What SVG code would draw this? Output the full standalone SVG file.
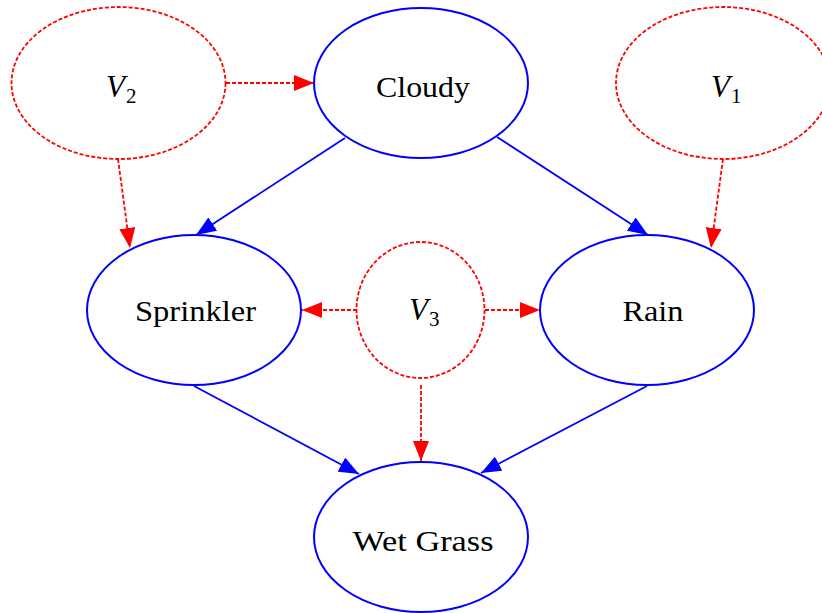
<svg xmlns="http://www.w3.org/2000/svg" width="822" height="613" viewBox="0 0 822 613">
<style>
.obs{fill:none;stroke:#0000ff;stroke-width:2}
.lat{fill:none;stroke:#ff0000;stroke-width:1.8;stroke-dasharray:4 2}
.eb{stroke:#0000ff;stroke-width:1.8;fill:none}
.er{stroke:#ff0000;stroke-width:1.8;stroke-dasharray:4 2;fill:none}
text{font-family:'Liberation Serif','Times New Roman',serif;fill:#000}
.lbl{font-size:30px}
.v{font-size:31px;font-style:italic}
.sub{font-size:21px;font-style:normal}
</style>
<defs>
<marker id="ab" markerUnits="userSpaceOnUse" markerWidth="20" markerHeight="16" refX="20" refY="8" orient="auto"><path d="M0,0 L20,8 L0,16 Z" fill="#0000ff"/></marker>
<marker id="ar" markerUnits="userSpaceOnUse" markerWidth="20" markerHeight="16" refX="20" refY="8" orient="auto"><path d="M0,0 L20,8 L0,16 Z" fill="#ff0000"/></marker>
</defs>
<rect width="822" height="613" fill="#ffffff"/>
<g id="connectors">
<line class="er" x1="226" y1="83" x2="314" y2="83" marker-end="url(#ar)"/>
<line class="er" x1="118" y1="159" x2="130" y2="248" marker-end="url(#ar)"/>
<line class="er" x1="723" y1="159" x2="711" y2="248" marker-end="url(#ar)"/>
<line class="er" x1="357" y1="310" x2="302" y2="310" marker-end="url(#ar)"/>
<line class="er" x1="485" y1="310" x2="540" y2="310" marker-end="url(#ar)"/>
<line class="er" x1="421" y1="385" x2="421" y2="461" marker-end="url(#ar)"/>
<line class="eb" x1="345" y1="138" x2="196" y2="235" marker-end="url(#ab)"/>
<line class="eb" x1="497" y1="137" x2="648" y2="235" marker-end="url(#ab)"/>
<line class="eb" x1="194" y1="386" x2="359" y2="474" marker-end="url(#ab)"/>
<line class="eb" x1="647" y1="386" x2="481" y2="473" marker-end="url(#ab)"/>
</g>
<g id="V2">
<ellipse class="lat" cx="118.5" cy="83" rx="107" ry="76"/>
<text class="v" x="106" y="97">V</text>
<text class="sub" x="126" y="103">2</text>
</g>
<g id="Cloudy">
<ellipse class="obs" cx="421" cy="83" rx="107" ry="75"/>
<text class="lbl" x="423" y="97" text-anchor="middle" textLength="94" lengthAdjust="spacingAndGlyphs">Cloudy</text>
</g>
<g id="V1">
<ellipse class="lat" cx="723" cy="83" rx="107" ry="76"/>
<text class="v" x="711" y="97">V</text>
<text class="sub" x="731" y="103">1</text>
</g>
<g id="Sprinkler">
<ellipse class="obs" cx="194" cy="310" rx="107" ry="75"/>
<text class="lbl" x="195.5" y="321" text-anchor="middle" textLength="121" lengthAdjust="spacingAndGlyphs">Sprinkler</text>
</g>
<g id="V3">
<ellipse class="lat" cx="420.5" cy="310" rx="64" ry="68"/>
<text class="v" x="409" y="320">V</text>
<text class="sub" x="429" y="326">3</text>
</g>
<g id="Rain">
<ellipse class="obs" cx="647" cy="310" rx="107" ry="75"/>
<text class="lbl" x="653" y="321" text-anchor="middle" textLength="61" lengthAdjust="spacingAndGlyphs">Rain</text>
</g>
<g id="WetGrass">
<ellipse class="obs" cx="421" cy="537" rx="107" ry="75"/>
<text class="lbl" x="423" y="551" text-anchor="middle" textLength="141" lengthAdjust="spacingAndGlyphs">Wet Grass</text>
</g>
</svg>
